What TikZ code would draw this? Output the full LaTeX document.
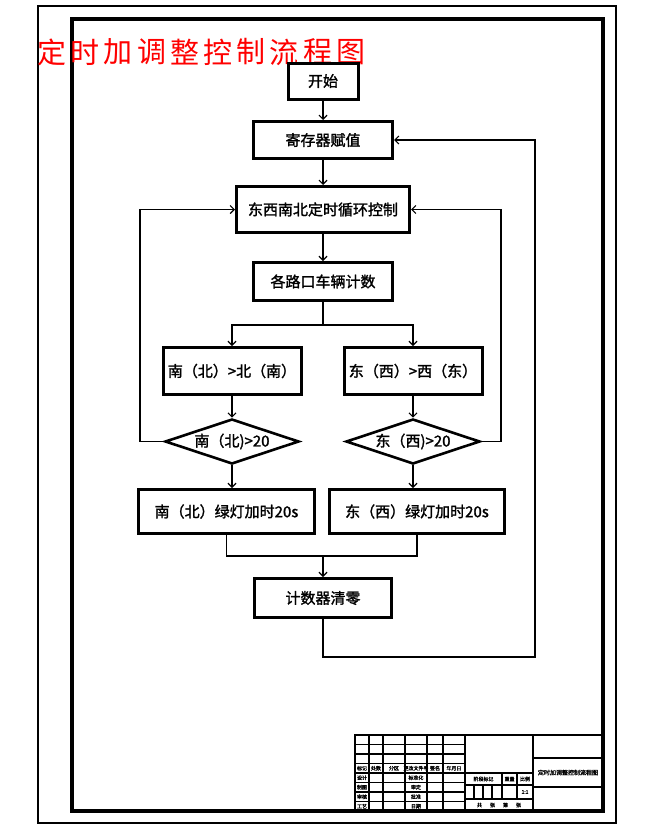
\documentclass[tikz,border=0pt]{standalone}
\usepackage{fontspec}
\setmainfont{Noto Sans CJK SC}
\newfontfamily\cjkb{Noto Sans CJK SC}[FakeBold=1.6]
\usetikzlibrary{arrows.meta,calc,positioning,shapes.geometric}

\begin{document}
\begin{tikzpicture}[x=1pt,y=-1pt,>={Straight Barb[length=4pt,width=8pt]},
  box/.style={draw,line width=3pt,inner sep=0pt,font=\cjkb\fontsize{15}{15}\selectfont},
  dec/.style={draw,diamond,aspect=2.9,line width=2.6pt,inner sep=0pt,
    minimum width=134pt,minimum height=45pt,font=\cjkb\fontsize{15}{15}\selectfont},
  ln/.style={line width=1.2pt},
  ttl/.style={red,inner sep=0pt,font=\fontsize{29}{29}\selectfont},
  tb/.style={line width=1.3pt},
  tbt/.style={inner sep=0pt,font=\cjkb\fontsize{5}{5}\selectfont}]
  \useasboundingbox (0,0) rectangle (654,830);
  % 图框
  \draw[line width=1.8pt] (38,6) rectangle (616,823);
  \draw[line width=4pt] (72,19) rectangle (603,811);
  % 标题
  \foreach \c [count=\i from 0] in {定,时,加,调,整,控,制,流,程,图}
    \node[ttl] (t\i) at (52+33.2*\i,52) {\c};
  % 流程框
  \node[box,minimum width=70pt,minimum height=36pt] (start) at (323,81) {开始};
  \node[box,minimum width=139pt,minimum height=37pt] (reg) at (323,140) {寄存器赋值};
  \node[box,minimum width=173pt,minimum height=46pt] (loop) at (323,209.5) {东西南北定时循环控制};
  \node[box,minimum width=139pt,minimum height=38pt] (cnt) at (323,281.5) {各路口车辆计数};
  \node[box,minimum width=138pt,minimum height=47pt] (nb) at (232,371) {南（北）>北（南）};
  \node[box,minimum width=138pt,minimum height=47pt] (ew) at (413,371) {东（西）>西（东）};
  \node[dec] (d1) at (232,441.5) {南（北)>20};
  \node[dec] (d2) at (413,441.5) {东（西)>20};
  \node[box,minimum width=176pt,minimum height=44pt] (g1) at (226.5,511.5) {南（北）绿灯加时20s};
  \node[box,minimum width=175pt,minimum height=44pt] (g2) at (417,511.5) {东（西）绿灯加时20s};
  \node[box,minimum width=137pt,minimum height=39pt] (clr) at (323,598) {计数器清零};
  % 连线
  \coordinate (sp) at (323,325);
  \coordinate (mg) at (323,556);
  \coordinate (lb) at (535,657);
  \coordinate (lw) at (140,441.5);
  \coordinate (re) at (501,441.5);
  \draw[ln,->] (start) -- (reg);
  \draw[ln,->] (reg) -- (loop);
  \draw[ln,->] (loop) -- (cnt);
  \draw[ln] (cnt) -- (sp);
  \draw[ln,->] (sp) -| (nb.north);
  \draw[ln,->] (sp) -| (ew.north);
  \draw[ln,->] (nb) -- (d1);
  \draw[ln,->] (ew) -- (d2);
  \draw[ln,->] (d1.south) -- (d1.south |- g1.north);
  \draw[ln,->] (d2.south) -- (d2.south |- g2.north);
  \draw[ln] (g1.south) |- (mg);
  \draw[ln] (g2.south) |- (mg);
  \draw[ln,->] (mg) -- (clr);
  \draw[ln,->] (clr.south) |- (lb) |- (reg.east);
  \draw[ln,->] (d1.west) -- (lw) |- (loop.west);
  \draw[ln,->] (d2.east) -- (re) |- (loop.east);
  % 标题栏
  \draw[line width=1.6pt] (355,811) -- (355,735) -- (603,735);
  \foreach \k in {1,...,7}
    \draw[tb] (355,735+9.5*\k) -- (465,735+9.5*\k);
  \foreach \x in {369,383,405,427,443,465}
    \draw[tb] (\x,735) -- (\x,811);
  \draw[tb] (533,735) -- (533,811);
  \draw[tb] (465,773) -- (533,773);
  \draw[tb] (465,785) -- (533,785);
  \draw[tb] (465,799) -- (533,799);
  \foreach \x in {502,517}
    \draw[tb] (\x,773) -- (\x,799);
  \foreach \x in {474,483,492}
    \draw[tb] (\x,785) -- (\x,799);
  \draw[tb] (533,758) -- (603,758);
  \draw[tb] (533,787) -- (603,787);
  \foreach \t/\x [count=\i] in {标记/362,处数/376,分区/394,更改文件号/416,签名/435,年月日/454}
    \node[tbt] (h\i) at (\x,768.25) {\t};
  \foreach \t [count=\i] in {设计,制图,审核,工艺}
    \node[tbt] (a\i) at (362,768.25+9.5*\i) {\t};
  \foreach \t [count=\i] in {标准化,审定,批准,日期}
    \node[tbt] (b\i) at (416,768.25+9.5*\i) {\t};
  \node[tbt] (stage) at (483.5,779) {阶段标记};
  \node[tbt] (wt) at (509.5,779) {重量};
  \node[tbt] (sc) at (525,779) {比例};
  \node[tbt] (scv) at (525,792) {1:1};
  \node[tbt] (pg) at (499,805) {共\hspace{8pt}张\hspace{8pt}第\hspace{8pt}张};
  \node[tbt,font=\cjkb\fontsize{6}{6}\selectfont] (name) at (568,772.5) {定时加调整控制流程图};
\end{tikzpicture}
\end{document}
